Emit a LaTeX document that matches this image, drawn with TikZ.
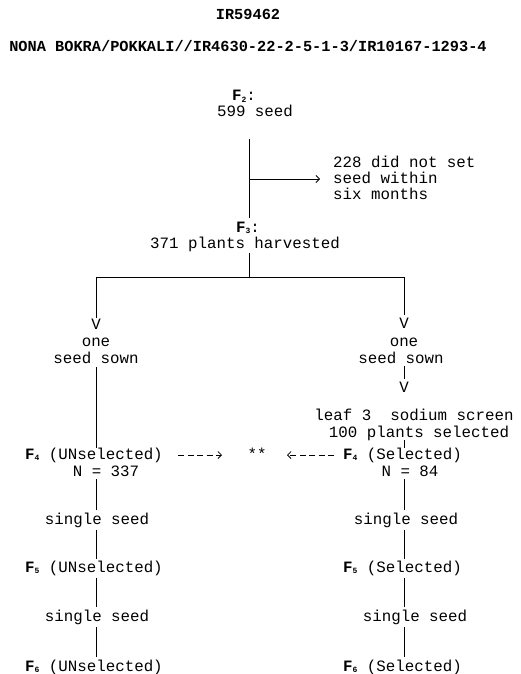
\documentclass[tikz,border=0pt]{standalone}
\usepackage{fontspec}
\setmainfont{Liberation Mono}[WordSpace={1,0,0}]
\usetikzlibrary{arrows.meta}
\newcommand{\Fsub}[1]{\textbf{F}\raisebox{-1.5pt}{\fontsize{8}{8}\selectfont\bfseries #1}}
\begin{document}
\begin{tikzpicture}[x=1pt,y=-1pt,
  txt/.style={inner sep=0pt, anchor=base, font=\fontsize{15.8}{17}\selectfont},
  txtw/.style={txt, anchor=base west},
  ttl/.style={inner sep=0pt, anchor=base, font=\fontsize{15.3}{17}\selectfont\bfseries},
  ln/.style={line width=0.8pt, black},
  tip/.style={-{Straight Barb[length=3.5pt,width=7pt,line width=0.8pt]}},
  dsh/.style={ln, tip, dash pattern=on 6pt off 3.5pt}]
\useasboundingbox (0,0) rectangle (520,674);
% titles
\node[ttl] (title) at (248,20) {IR59462};
\node[ttl] (cross) at (248,52) {NONA BOKRA/POKKALI//IR4630-22-2-5-1-3/IR10167-1293-4};
% top part
\node[txt] (f2) at (244,101) {\Fsub{2}:};
\node[txt] (s599) at (255,117) {599 seed};
\node[txtw] (n228a) at (333,167) {228 did not set};
\node[txtw] (n228b) at (333,183) {seed within};
\node[txtw] (n228c) at (333,199) {six months};
\node[txt] (f3) at (248,232) {\Fsub{3}:};
\node[txt] (s371) at (245,248) {371 plants harvested};
% branches
\node[txt] (vL) at (96,329) {V};
\node[txt] (vR) at (404,328) {V};
\node[txt] (oneL) at (96,346) {one};
\node[txt] (sowL) at (96,363) {seed sown};
\node[txt] (oneR) at (404,346) {one};
\node[txt] (sowR) at (401,363) {seed sown};
\node[txt] (vR2) at (404,392) {V};
\node[txt] (leaf) at (414,420) {leaf 3\hspace{0.6em} sodium screen};
\node[txt] (sel100) at (419,437) {100 plants selected};
% F4 row
\node[txtw] (f4L) at (25,459) {\Fsub{4} (UNselected)};
\node[txt] (stars) at (257,459) {**};
\node[txtw] (f4R) at (343,459) {\Fsub{4} (Selected)};
\node[txt] (nL) at (106,476) {N = 337};
\node[txt] (nR) at (410,476) {N = 84};
\node[txt] (ssL1) at (97,524) {single seed};
\node[txt] (ssR1) at (406,524) {single seed};
\node[txtw] (f5L) at (25,572) {\Fsub{5} (UNselected)};
\node[txtw] (f5R) at (343,572) {\Fsub{5} (Selected)};
\node[txt] (ssL2) at (97,621) {single seed};
\node[txt] (ssR2) at (415,621) {single seed};
\node[txtw] (f6L) at (25,671) {\Fsub{6} (UNselected)};
\node[txtw] (f6R) at (343,671) {\Fsub{6} (Selected)};
% coordinates for line ends
\coordinate (t1) at (249,139);
\coordinate (t2) at (249,218);
\coordinate (tb) at (249,179);
\coordinate (tbe) at (320,179);
\coordinate (t3) at (249,253);
\coordinate (hc) at (249,277);
\coordinate (hL) at (96,277);
\coordinate (hR) at (404,277);
\coordinate (aL) at (96,318);
\coordinate (aR) at (404,315);
\coordinate (L1) at (96,367);
\coordinate (L2) at (96,448);
\coordinate (R1) at (404,366);
\coordinate (R2) at (404,379);
\coordinate (R3) at (404,440);
\coordinate (R4) at (404,448);
\coordinate (dL1) at (178,455);
\coordinate (dL2) at (222,455);
\coordinate (dR1) at (334,455);
\coordinate (dR2) at (287,455);
% connectors
\draw[ln] (t1) -- (t2);
\draw[ln, tip] (tb) -- (tbe);
\draw[ln] (t3) -- (hc);
\draw[ln] (aL) -- (hL) -- (hR) -- (aR);
\draw[ln] (L1) -- (L2);
\draw[ln] (R1) -- (R2);
\draw[ln] (R3) -- (R4);
\draw[dsh] (dL1) -- (dL2);
\draw[dsh] (dR1) -- (dR2);
\foreach \x in {96,404}{
  \draw[ln] (\x,479) -- (\x,510);
  \draw[ln] (\x,530) -- (\x,559);
  \draw[ln] (\x,578) -- (\x,607);
  \draw[ln] (\x,627) -- (\x,657);
}
\end{tikzpicture}
\end{document}
